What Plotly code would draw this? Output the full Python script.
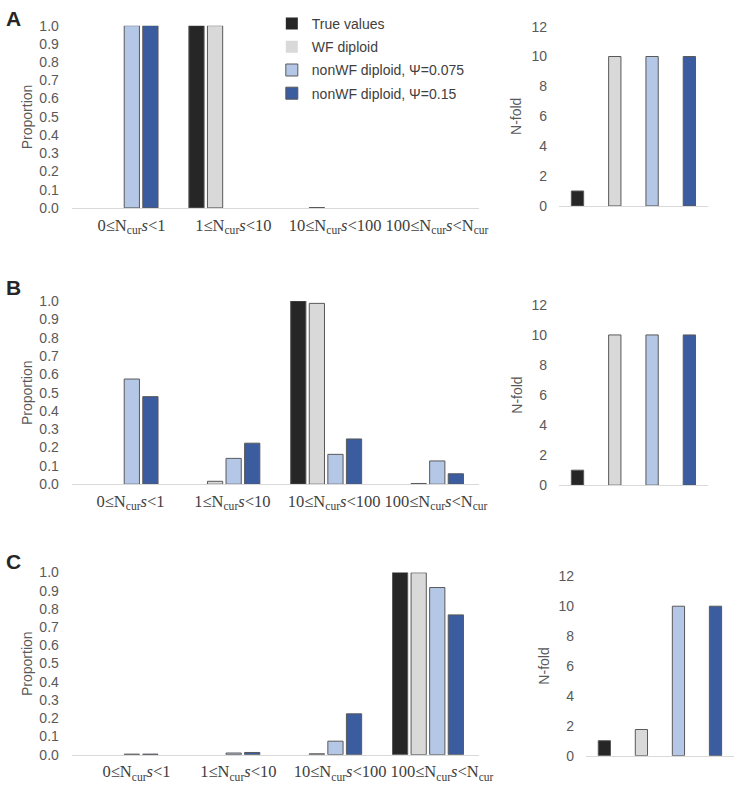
import plotly.graph_objects as go

W, H = 749, 795

categories = [
    "0≤N<sub>cur</sub><i>s</i>&lt;1",
    "1≤N<sub>cur</sub><i>s</i>&lt;10",
    "10≤N<sub>cur</sub><i>s</i>&lt;100",
    "100≤N<sub>cur</sub><i>s</i>&lt;N<sub>cur</sub>",
]
series_names = ["True values", "WF diploid", "nonWF diploid, Ψ=0.075", "nonWF diploid, Ψ=0.15"]
series_colors = ["#262626", "#D9D9D9", "#B4C7E7", "#3B5C9E"]

# Proportions per panel: rows = series, columns = categories
prop_A = [
    [0, 1.0, 0, 0],
    [0, 1.0, 0.002, 0],
    [1.0, 0, 0, 0],
    [1.0, 0, 0, 0],
]
prop_B = [
    [0, 0, 1.0, 0],
    [0, 0.016, 0.987, 0.004],
    [0.574, 0.141, 0.163, 0.127],
    [0.478, 0.224, 0.247, 0.057],
]
prop_C = [
    [0, 0, 0, 1.0],
    [0, 0, 0.005, 0.998],
    [0.003, 0.009, 0.074, 0.917],
    [0.003, 0.012, 0.224, 0.767],
]
# N-fold per panel, one value per series
nfold_A = [1, 10, 10, 10]
nfold_B = [1, 10, 10, 10]
nfold_C = [1, 1.75, 10, 10]

panel_letters = ["A", "B", "C"]


def px_x(p):
    return p / W


def px_y(p):
    return 1 - p / H


# layout geometry (pixels)
left_x = (73, 488)
panels = [
    dict(left_y=(18, 204), right_y=(19, 202), right_x=(569.5, 721.5), letter_y=11,
         props=prop_A, nfold=nfold_A, shift=9),
    dict(left_y=(299, 486), right_y=(303, 487), right_x=(569.5, 721.5), letter_y=285,
         props=prop_B, nfold=nfold_B, shift=8),
    dict(left_y=(576, 762), right_y=(580, 763), right_x=(597, 748), letter_y=565,
         props=prop_C, nfold=nfold_C, shift=14),
]

fig = go.Figure()
line_col = "#595959"
tick_col = "#595959"
annotations = []

for i, p in enumerate(panels):
    xa_l = "x" if i == 0 else f"x{2*i+1}"
    ya_l = "y" if i == 0 else f"y{2*i+1}"
    xa_r = f"x{2*i+2}"
    ya_r = f"y{2*i+2}"
    for s in range(4):
        vals = p["props"][s]
        fig.add_trace(go.Bar(
            x=categories, y=vals, name=series_names[s],
            marker=dict(color=series_colors[s],
                        line=dict(color=line_col, width=[1 if v else 0 for v in vals])),
            xaxis=xa_l, yaxis=ya_l, showlegend=(i == 0), legendgroup=series_names[s],
        ))
    fig.add_trace(go.Bar(
        x=series_names, y=p["nfold"], width=0.33,
        marker=dict(color=series_colors, line=dict(color=line_col, width=1)),
        xaxis=xa_r, yaxis=ya_r, showlegend=False,
    ))

    kl = "" if i == 0 else str(2 * i + 1)
    kr = str(2 * i + 2)
    fig.update_layout(**{
        f"xaxis{kl}": dict(
            domain=[px_x(left_x[0]), px_x(left_x[1])], anchor=ya_l,
            type="category", range=[-0.5, 3.5], showgrid=False, zeroline=False,
            showline=True, linecolor="#D9D9D9", linewidth=1,
            ticks="outside", tickcolor="rgba(0,0,0,0)", ticklen=2,
            ticklabelshift=p["shift"],
            tickfont=dict(family="Liberation Serif", size=16.5, color="#404040"),
        ),
        f"yaxis{kl}": dict(
            domain=[px_y(p["left_y"][1]), px_y(p["left_y"][0])], anchor=xa_l,
            range=[0, 1.0], dtick=0.1, tickformat=".1f", showgrid=False, zeroline=False,
            showline=False, ticks="outside", tickcolor="rgba(0,0,0,0)", ticklen=9,
            tickfont=dict(family="Liberation Sans", size=14, color=tick_col),
        ),
        f"xaxis{kr}": dict(
            domain=[px_x(p["right_x"][0]), px_x(p["right_x"][1])], anchor=ya_r,
            type="category", range=[-0.5, 3.5], showgrid=False, zeroline=False,
            showline=True, linecolor="#D9D9D9", linewidth=1, showticklabels=False,
        ),
        f"yaxis{kr}": dict(
            domain=[px_y(p["right_y"][1]), px_y(p["right_y"][0])], anchor=xa_r,
            range=[0, 12], dtick=2, showgrid=False, zeroline=False, showline=False,
            ticks="outside", tickcolor="rgba(0,0,0,0)", ticklen=8,
            tickfont=dict(family="Liberation Sans", size=14, color=tick_col),
        ),
    })
    annotations.append(dict(
        text=f"<b>{panel_letters[i]}</b>", x=px_x(4), y=px_y(p["letter_y"]),
        xref="paper", yref="paper", xanchor="left", yanchor="middle", showarrow=False,
        font=dict(family="Liberation Sans", size=21, color="#262626"),
    ))
    ly = (p["left_y"][0] + p["left_y"][1]) / 2
    annotations.append(dict(
        text="Proportion", x=px_x(27), y=px_y(ly), xref="paper", yref="paper",
        textangle=-90, showarrow=False, xanchor="center", yanchor="middle",
        font=dict(family="Liberation Sans", size=14, color=tick_col),
    ))
    ry = (p["right_y"][0] + p["right_y"][1]) / 2
    annotations.append(dict(
        text="N-fold", x=px_x(p["right_x"][0] - 43), y=px_y(ry), xref="paper", yref="paper",
        textangle=-90, showarrow=False, xanchor="center", yanchor="middle",
        font=dict(family="Liberation Sans", size=14, color=tick_col),
    ))

fig.update_layout(
    width=W, height=H, margin=dict(l=0, r=0, t=0, b=0),
    paper_bgcolor="white", plot_bgcolor="white",
    barmode="group", bargap=0.27, bargroupgap=0.18,
    annotations=annotations,
    legend=dict(
        x=px_x(277), y=px_y(0), xanchor="left", yanchor="top",
        font=dict(family="Liberation Sans", size=14, color="#404040"),
        bgcolor="rgba(0,0,0,0)", tracegroupgap=2, traceorder="grouped",
        itemwidth=30,
    ),
    font=dict(family="Liberation Sans"),
)

fig.write_html("out.html", config={"displayModeBar": False},
               post_script="document.body.style.margin='0';document.body.style.overflow='hidden';")
